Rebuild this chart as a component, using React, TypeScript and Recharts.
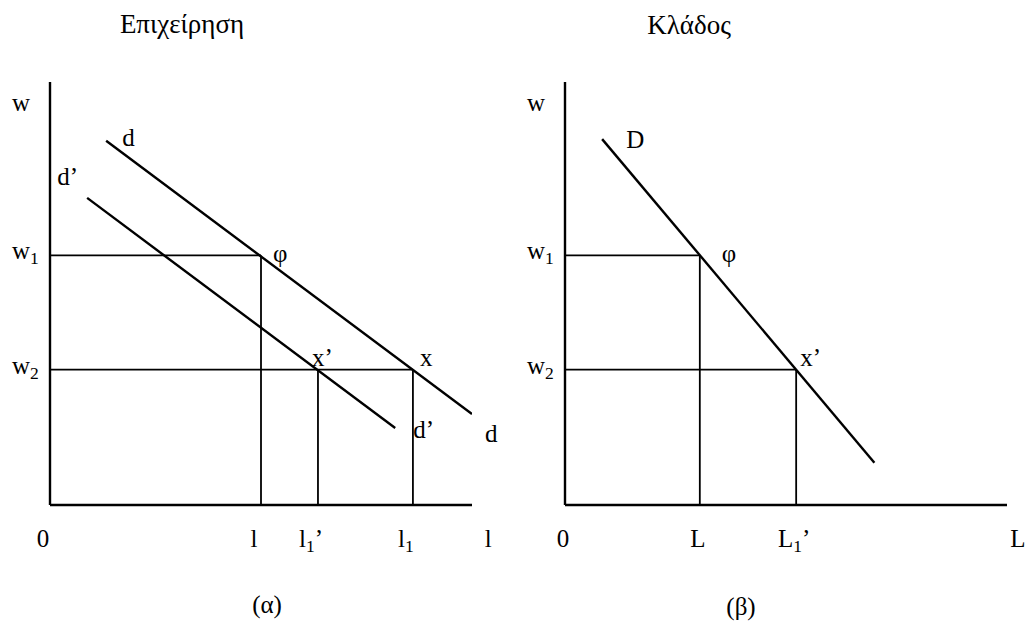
import React from "react";
import { ComposedChart, Line, XAxis, YAxis, ReferenceLine, ReferenceDot } from "recharts";

// ---------- data ----------
// wage levels (shared by both panels)
const wageLevels = { w1: 59, w2: 32 };

// Firm panel (α): quantities of labour
const firmQuantities = { l: 50, l1Prime: 63.5, l1: 86 };
const firmDemandD = [
  { q: 13.3, w: 86.1 },
  { q: 100, w: 21.5 },
];
const firmDemandDPrime = [
  { q: 8.8, w: 72.6 },
  { q: 81.8, w: 18.2 },
];
const firmXTicks = [
  { value: 0, label: "0" },
  { value: 50, label: "l" },
  { value: 63.5, label: "l_1’" },
  { value: 86, label: "l_1" },
  { value: 105.5, label: "l" },
];

// Industry panel (β)
const industryQuantities = { L: 30.5, L1Prime: 52.3 };
const industryDemandD = [
  { q: 8.4, w: 86.5 },
  { q: 70, w: 10 },
];
const industryXTicks = [
  { value: 0, label: "0" },
  { value: 30.5, label: "L" },
  { value: 52.3, label: "L_1’" },
  { value: 102.9, label: "L" },
];

const wageTicks = [
  { value: 94, label: "w" },
  { value: 59, label: "w_1" },
  { value: 32, label: "w_2" },
];

// annotations anchored at data points
const firmAnnotations = [
  { text: "d", q: firmDemandD[0].q, w: firmDemandD[0].w },
  { text: "d’", q: firmDemandDPrime[0].q, w: firmDemandDPrime[0].w },
  { text: "φ", q: firmQuantities.l, w: wageLevels.w1 },
  { text: "x’", q: firmQuantities.l1Prime, w: wageLevels.w2 },
  { text: "x", q: firmQuantities.l1, w: wageLevels.w2 },
  { text: "d’", q: firmDemandDPrime[1].q, w: firmDemandDPrime[1].w },
  { text: "d", q: firmDemandD[1].q, w: firmDemandD[1].w },
];
const industryAnnotations = [
  { text: "D", q: industryDemandD[0].q, w: industryDemandD[0].w },
  { text: "φ", q: industryQuantities.L, w: wageLevels.w1 },
  { text: "x’", q: industryQuantities.L1Prime, w: wageLevels.w2 },
];

// ---------- styles ----------
const FONT = '"Liberation Serif", "Times New Roman", serif';
const FS = 25;
const TITLE_FS = 27;
const firmAnnotationOffsets = [
  [16, 5],
  [-30, -13],
  [12, 7],
  [-6, -4],
  [7, -4],
  [18, 10],
  [13, 28],
];
const industryAnnotationOffsets = [
  [24, 9],
  [22, 7],
  [4, -4],
];

const renderRich = (label: string, x: number, y: number, anchor: string, key?: any) => {
  const [base, rest] = label.split("_");
  const sub = rest ? rest.charAt(0) : "";
  const suffix = rest ? rest.slice(1) : "";
  return (
    <text key={key} x={x} y={y} textAnchor={anchor as any} fontFamily={FONT} fontSize={FS} fill="#000">
      {base}
      {sub && (
        <tspan dy={5} fontSize={FS * 0.7}>
          {sub}
        </tspan>
      )}
      {suffix && <tspan dy={-5}>{suffix}</tspan>}
    </text>
  );
};

// plot frame shared by both panels
const PLOT_TOP = 82;
const AXIS_Y = 505;

const makeXTick = (ticks: { value: number; label: string }[], shift: number) => (props: any) => {
  const { x, payload } = props;
  const t = ticks.find((tk) => tk.value === payload.value);
  if (!t) return <g />;
  return renderRich(t.label, x + shift, AXIS_Y + 42, "middle");
};

const makeYTick = (axisX: number) => (props: any) => {
  const { y, payload } = props;
  const t = wageTicks.find((tk) => tk.value === payload.value);
  if (!t) return <g />;
  return renderRich(t.label, axisX - 38, y + 4, "start");
};

const axisStyle = { stroke: "#000", strokeWidth: 2.4 };
const demandStroke = 2.4;
const guide = { stroke: "#000", strokeWidth: 1.8 };

export default function App() {
  const { w1, w2 } = wageLevels;
  const { l, l1Prime, l1 } = firmQuantities;
  const { L, L1Prime } = industryQuantities;
  return (
    <div style={{ position: "absolute", left: 0, top: 0, width: 1027, height: 626, background: "#fff" }}>
      <svg width={1027} height={626} style={{ position: "absolute", left: 0, top: 0 }}>
        <text x={182} y={33} textAnchor="middle" fontFamily={FONT} fontSize={TITLE_FS} fill="#000">
          Επιχείρηση
        </text>
        <text x={689} y={34} textAnchor="middle" fontFamily={FONT} fontSize={TITLE_FS} fill="#000">
          Κλάδος
        </text>
        <text x={267} y={613} textAnchor="middle" fontFamily={FONT} fontSize={FS} fill="#000">
          (α)
        </text>
        <text x={741} y={615} textAnchor="middle" fontFamily={FONT} fontSize={FS} fill="#000">
          (β)
        </text>
      </svg>

      {/* Panel (α): firm */}
      <div style={{ position: "absolute", left: 0, top: 0 }}>
        <ComposedChart width={520} height={626} margin={{ top: PLOT_TOP, left: 10, right: 48, bottom: 91 }}>
          <XAxis
            type="number"
            dataKey="q"
            domain={[0, 100]}
            allowDataOverflow
            ticks={firmXTicks.map((t) => t.value)}
            interval={0}
            height={30}
            tickLine={false}
            axisLine={axisStyle}
            tick={makeXTick(firmXTicks, -7)}
          />
          <YAxis
            type="number"
            dataKey="w"
            domain={[0, 100]}
            allowDataOverflow
            ticks={wageTicks.map((t) => t.value)}
            interval={0}
            width={40}
            tickLine={false}
            axisLine={axisStyle}
            tick={makeYTick(50)}
          />
          <ReferenceLine segment={[{ x: 0, y: w1 }, { x: l, y: w1 }]} {...guide} ifOverflow="visible" />
          <ReferenceLine segment={[{ x: l, y: 0 }, { x: l, y: w1 }]} {...guide} ifOverflow="visible" />
          <ReferenceLine segment={[{ x: 0, y: w2 }, { x: l1, y: w2 }]} {...guide} ifOverflow="visible" />
          <ReferenceLine segment={[{ x: l1Prime, y: 0 }, { x: l1Prime, y: w2 }]} {...guide} ifOverflow="visible" />
          <ReferenceLine segment={[{ x: l1, y: 0 }, { x: l1, y: w2 }]} {...guide} ifOverflow="visible" />
          <Line data={firmDemandD} dataKey="w" type="linear" stroke="#000" strokeWidth={demandStroke} dot={false} isAnimationActive={false} />
          <Line data={firmDemandDPrime} dataKey="w" type="linear" stroke="#000" strokeWidth={demandStroke} dot={false} isAnimationActive={false} />
          {firmAnnotations.map((a, i) => (
            <ReferenceDot
              key={i}
              x={a.q}
              y={a.w}
              r={1}
              ifOverflow="visible"
              shape={(p: any) =>
                renderRich(a.text, p.cx + firmAnnotationOffsets[i][0], p.cy + firmAnnotationOffsets[i][1], "start")
              }
            />
          ))}
        </ComposedChart>
      </div>

      {/* Panel (β): industry */}
      <div style={{ position: "absolute", left: 510, top: 0 }}>
        <ComposedChart width={517} height={626} margin={{ top: PLOT_TOP, left: 15, right: 20, bottom: 91 }}>
          <XAxis
            type="number"
            dataKey="q"
            domain={[0, 100]}
            allowDataOverflow
            ticks={industryXTicks.map((t) => t.value)}
            interval={0}
            height={30}
            tickLine={false}
            axisLine={axisStyle}
            tick={makeXTick(industryXTicks, -2)}
          />
          <YAxis
            type="number"
            dataKey="w"
            domain={[0, 100]}
            allowDataOverflow
            ticks={wageTicks.map((t) => t.value)}
            interval={0}
            width={40}
            tickLine={false}
            axisLine={axisStyle}
            tick={makeYTick(55)}
          />
          <ReferenceLine segment={[{ x: 0, y: w1 }, { x: L, y: w1 }]} {...guide} ifOverflow="visible" />
          <ReferenceLine segment={[{ x: L, y: 0 }, { x: L, y: w1 }]} {...guide} ifOverflow="visible" />
          <ReferenceLine segment={[{ x: 0, y: w2 }, { x: L1Prime, y: w2 }]} {...guide} ifOverflow="visible" />
          <ReferenceLine segment={[{ x: L1Prime, y: 0 }, { x: L1Prime, y: w2 }]} {...guide} ifOverflow="visible" />
          <Line data={industryDemandD} dataKey="w" type="linear" stroke="#000" strokeWidth={demandStroke} dot={false} isAnimationActive={false} />
          {industryAnnotations.map((a, i) => (
            <ReferenceDot
              key={i}
              x={a.q}
              y={a.w}
              r={1}
              ifOverflow="visible"
              shape={(p: any) =>
                renderRich(a.text, p.cx + industryAnnotationOffsets[i][0], p.cy + industryAnnotationOffsets[i][1], "start")
              }
            />
          ))}
        </ComposedChart>
      </div>
    </div>
  );
}
